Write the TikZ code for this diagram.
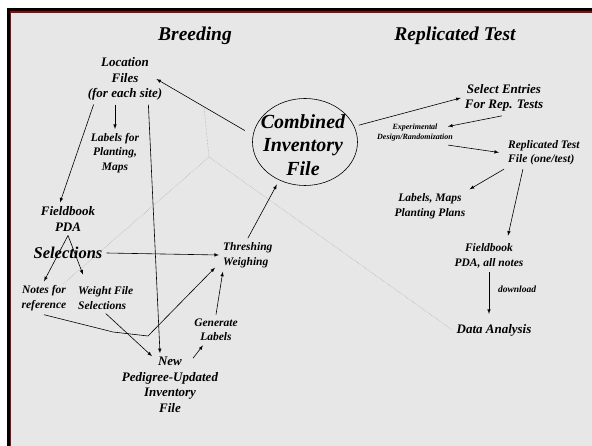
\documentclass[tikz,border=0pt]{standalone}
\usepackage{fontspec}
\setmainfont{Liberation Serif}
\usepackage{tikz}
\usetikzlibrary{arrows,shapes.geometric}

\definecolor{paper}{RGB}{231,231,231}
\definecolor{rim}{RGB}{140,12,12}

\tikzset{
  heading/.style={font=\bfseries\itshape\fontsize{19.5}{23}\selectfont, inner sep=2pt},
  bigtxt/.style={font=\bfseries\itshape\fontsize{20}{23.5}\selectfont, align=center, inner sep=0pt},
  lbl/.style={font=\bfseries\itshape\fontsize{13}{15.5}\selectfont, align=center, inner sep=4pt},
  lblsm/.style={font=\bfseries\itshape\fontsize{11.5}{14.5}\selectfont, align=center, inner sep=4pt},
  lbltiny/.style={font=\bfseries\itshape\fontsize{8}{9.5}\selectfont, align=center, inner sep=4pt},
  flow/.style={-latex, line width=0.6pt},
  guide/.style={gray!85, densely dotted, line width=0.4pt}
}

\begin{document}
\begin{tikzpicture}[x=1pt, y=-1pt]
    \useasboundingbox (0,0) rectangle (592,446);

    % fondo y marco
    \fill[paper] (8,10) rectangle (592,446);
    \fill[black] (6.5,8.5) rectangle (592,11.5);
    \fill[black] (6.5,8.5) rectangle (9.5,446);
    \fill[rim] (9.5,11.5) rectangle (592,13);
    \fill[rim] (9.5,11.5) rectangle (11,446);

    % titulos
    \node[heading] (breeding) at (195,36) {Breeding};
    \node[heading] (reptest) at (455,36) {Replicated Test};

    % archivo central
    \node[draw, ellipse, line width=0.6pt, minimum width=105pt, minimum height=87pt] (cif) at (305,142) {};
    \node[bigtxt] (ciftxt) at (303,145) {Combined\\Inventory\\File};

    % lado izquierdo
    \node[lbl] (loc) at (125,79) {Location\\Files\\(for each site)};
    \node[lblsm] (lab) at (115,153) {Labels for\\Planting,\\Maps};
    \node[lbl] (fbl) at (68,219) {Fieldbook\\PDA};
    \node[font=\bfseries\itshape\fontsize{16.5}{19}\selectfont, inner sep=4pt] (sel) at (68,253) {Selections};
    \node[lblsm] (notes) at (44,298) {Notes for\\reference};
    \node[lblsm, align=left, anchor=west] (wfs) at (74,298) {Weight File\\Selections};
    \node[lblsm, align=left, anchor=west] (thr) at (219,255) {Threshing\\Weighing};
    \node[lblsm] (gen) at (216,330) {Generate\\Labels};
    \node[lbl] (new) at (170,385) {New\\Pedigree-Updated\\Inventory\\File};

    % lado derecho
    \node[lbl] (sel2) at (504,98) {Select Entries\\For Rep. Tests};
    \node[lbltiny] (exp) at (415,132.5) {Experimental\\Design/Randomization};
    \node[lblsm, align=left, anchor=west] (rep) at (504,152.5) {Replicated Test\\File (one/test)};
    \node[lblsm] (lmp) at (430,206) {Labels, Maps\\Planting Plans};
    \node[lblsm] (fb2) at (489,256) {Fieldbook\\PDA, all notes};
    \node[font=\bfseries\itshape\fontsize{9.5}{11}\selectfont, inner sep=2pt] (dl) at (517,289) {download};
    \node[lbl] (da) at (494,330) {Data Analysis};

    % lineas grises de fondo
    \coordinate (fork) at (209,157);
    \coordinate (forkup) at (204,107);
    \coordinate (forkleft) at (63,284);
    \draw[guide] (forkup) -- (fork) -- (forkleft);
    \draw[guide] (fork) -- (da.west);

    % flechas izquierda
    \draw[flow] ([xshift=-10pt,yshift=-2pt]cif.165) -- ([xshift=-10pt]loc.east);
    \draw[flow] (lab.north |- loc.south) -- (lab.north);
    \draw[flow] ([xshift=10pt]loc.south west) -- ([xshift=-8pt]fbl.north);
    \draw[flow] ([xshift=-18pt]loc.south east) -- ([xshift=-10pt]new.north);
    \draw[flow] (fbl.south) -- (notes.north);
    \draw[flow] (fbl.south) -- ([xshift=9pt,yshift=8pt]wfs.north west);
    \draw[flow] (sel.east) -- (thr.west);
    \draw[flow, shorten >=5pt] (thr.north) -- (cif.236);
    \coordinate (kink1) at (113,332);
    \coordinate (kink2) at (148,336);
    \draw[flow] (notes.south) -- (kink1) -- (kink2) -- ([xshift=-4pt,yshift=4pt]thr.south west);
    \draw[flow] (wfs.south) -- ([xshift=-18pt,yshift=-3pt]new.north);
    \draw[flow] (gen.north) -- ([xshift=-25pt]thr.south);
    \draw[flow] ([xshift=23pt,yshift=-5pt]new.north) -- ([xshift=-13pt]gen.south);

    % flechas derecha
    \draw[flow] ([xshift=5pt]cif.19) -- (sel2.west);
    \draw[flow] ([xshift=-2pt]sel2.south) -- ([xshift=-9pt,yshift=6pt]exp.east);
    \draw[flow] ([xshift=-9pt]exp.south east) -- ([xshift=-5pt]rep.west);
    \draw[flow] (rep.south west) -- (lmp.north east);
    \draw[flow] ([xshift=-21pt]rep.south) -- ([xshift=19pt,yshift=4pt]fb2.north);
    \draw[flow] (fb2.south) -- ([yshift=6pt]fb2.south |- da.north);
\end{tikzpicture}
\end{document}
